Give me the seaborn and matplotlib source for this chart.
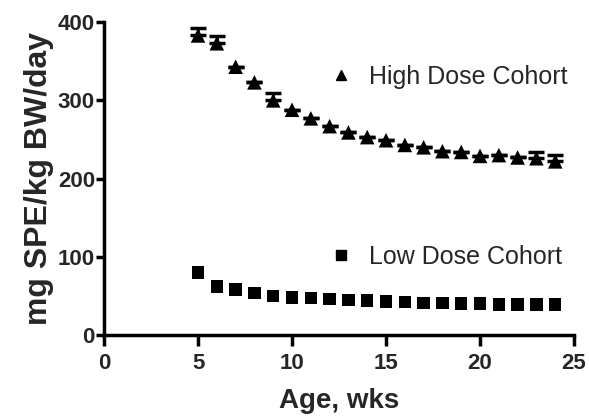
import numpy as np
import pandas as pd
import matplotlib
matplotlib.use("Agg")
import matplotlib.pyplot as plt
import seaborn as sns
from matplotlib.lines import Line2D

age = [5, 6, 7, 8, 9, 10, 11, 12, 13, 14, 15, 16, 17, 18, 19, 20, 21, 22, 23, 24]
high_dose = [383, 373, 343, 323, 300, 288, 277, 267, 259, 253, 249, 243, 240, 235, 234, 229, 230, 227, 226, 222]
high_err = [9, 9, 0, 0, 10, 0, 0, 0, 0, 0, 0, 0, 0, 0, 0, 0, 0, 0, 8, 8]
low_dose = [80, 62, 58, 54, 50, 48, 47, 46, 45, 44, 43, 42, 41, 41, 40, 40, 39, 39, 39, 39]
labels = ["High Dose Cohort", "Low Dose Cohort"]
xticks = [0, 5, 10, 15, 20, 25]
yticks = [0, 100, 200, 300, 400]

sns.set_style("ticks")
plt.rcParams['font.family'] = ['Liberation Sans', 'DejaVu Sans']

df = pd.DataFrame({
    "age": age * 2,
    "dose": high_dose + low_dose,
    "cohort": [labels[0]] * len(age) + [labels[1]] * len(age),
})

fig = plt.figure(figsize=(5.89, 4.18), dpi=100)
ax = fig.add_axes([0.1766, 0.1986, 0.7980, 0.7484])

ax.errorbar(age, high_dose, yerr=[np.zeros(len(age)), high_err], fmt='none',
            ecolor='black', elinewidth=2, capsize=5.5, capthick=2.5, zorder=2)
sns.scatterplot(data=df, x="age", y="dose", style="cohort",
                markers={labels[0]: '^', labels[1]: 's'},
                size="cohort", sizes={labels[0]: 110, labels[1]: 80},
                color='black', edgecolor='black', linewidth=0,
                legend=False, ax=ax, zorder=3)

ax.set_xlim(0, 25)
ax.set_ylim(0, 400)
ax.set_xticks(xticks)
ax.set_yticks(yticks)
ax.set_xlabel("Age, wks", fontsize=20, fontweight='bold', labelpad=10)
ax.set_ylabel("mg SPE/kg BW/day", fontsize=23, fontweight='bold', labelpad=3)
for lab in ax.get_xticklabels() + ax.get_yticklabels():
    lab.set_fontweight('bold')
ax.tick_params(axis='both', labelsize=16, width=2.5, color='black')
ax.tick_params(axis='x', length=8, pad=5)
ax.tick_params(axis='y', length=6, pad=0.5)
sns.despine(ax=ax)
for sp in ['left', 'bottom']:
    ax.spines[sp].set_linewidth(2.5)
    ax.spines[sp].set_color('black')

h_high = Line2D([], [], marker='^', color='black', linestyle='none', markersize=7)
h_low = Line2D([], [], marker='s', color='black', linestyle='none', markersize=6.5)
leg1 = ax.legend(handles=[h_high], labels=[labels[0]], loc='center left',
                 bbox_to_anchor=(0.43, 0.824), frameon=False, fontsize=18,
                 handletextpad=0.6, handlelength=1.0)
ax.add_artist(leg1)
ax.legend(handles=[h_low], labels=[labels[1]], loc='center left',
          bbox_to_anchor=(0.43, 0.249), frameon=False, fontsize=18,
          handletextpad=0.6, handlelength=1.0)

fig.savefig("out.png", dpi=100)
